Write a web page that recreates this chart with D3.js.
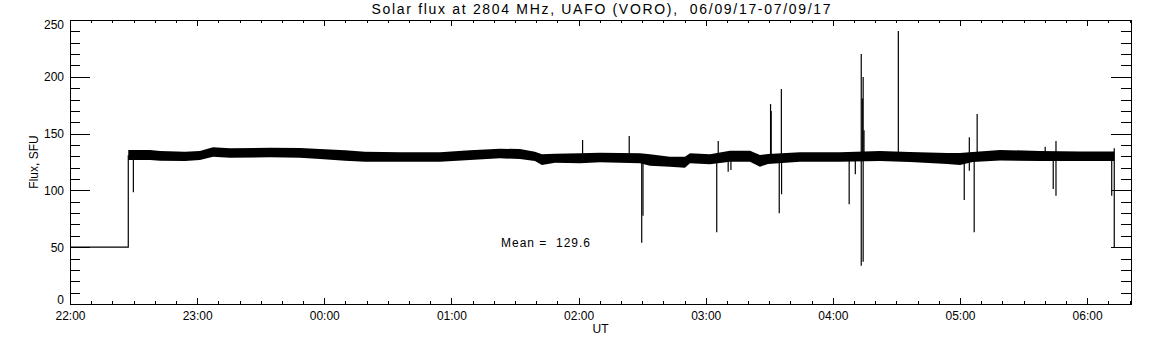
<!DOCTYPE html>
<html>
<head>
<meta charset="utf-8">
<script src="https://cdn.jsdelivr.net/npm/d3@7"></script>
<style>
  body { margin: 0; background: #fff; }
  svg { display: block; }
  text { font-family: "Liberation Sans", Arial, sans-serif; fill: #000; white-space: pre; }
  .domain { display: none; }
</style>
</head>
<body>
<svg id="chart" width="1152" height="345"></svg>
<script>
// minutes after 22:00 UT, 06/09/17
const bandMinutes = [27.5, 37.8, 42.5, 54.3, 61.3, 67.5, 75.5, 94.4, 108.5, 118.0, 129.8, 139.2, 155.7, 174.6,
  188.8, 202.9, 212.3, 219.4, 222.7, 228.9, 240.7, 250.1, 269.0, 273.7, 283.1, 290.2, 292.6, 302.0, 311.4,
  320.9, 325.6, 329.4, 344.5, 363.3, 382.2, 396.4, 414.0, 420.0, 426.0, 438.9, 457.7, 476.6, 492.8];
const bandHigh = [135.6, 135.6, 134.7, 134.1, 134.7, 137.9, 137.1, 137.6, 137.3, 136.4, 135.3, 134.1, 133.5, 133.5,
  135.3, 136.7, 136.4, 134.1, 131.8, 132.3, 132.7, 133.2, 132.7, 131.8, 129.7, 129.7, 132.7, 131.8, 134.8,
  134.8, 131.2, 132.0, 133.5, 133.5, 134.7, 133.8, 132.9, 132.9, 133.8, 135.6, 134.7, 134.3, 134.3];
const bandLow = [126.8, 126.8, 126.1, 125.9, 126.8, 129.7, 128.8, 129.1, 128.8, 127.6, 126.1, 125.3, 125.3, 125.3,
  126.8, 128.3, 127.6, 125.9, 122.4, 124.4, 123.9, 124.7, 123.9, 121.7, 120.9, 120.0, 123.9, 123.0, 125.3,
  125.3, 120.9, 123.2, 125.3, 125.3, 125.9, 125.0, 123.2, 122.4, 125.0, 126.3, 125.9, 125.9, 125.9];

const spikeMinutes = [29.9, 241.9, 263.9, 269.8, 270.4, 305.2, 305.9, 310.6, 311.9, 330.6, 330.9, 334.7, 335.7,
  335.8, 367.7, 370.6, 373.4, 373.4, 373.9, 374.3, 374.3, 374.7, 390.9, 422.0, 424.4, 424.4, 426.7, 428.1,
  460.2, 464.0, 465.3, 465.3, 491.6];
const spikeValues = [98.3, 144.4, 147.9, 54.0, 77.7, 63.1, 143.5, 116.5, 118.0, 176.0, 170.0, 79.8, 189.3,
  96.6, 87.7, 114.2, 220.0, 33.7, 181.0, 199.8, 37.3, 153.0, 240.3, 91.5, 146.7, 117.3, 63.1, 167.3,
  138.5, 101.2, 143.5, 95.3, 95.3];

const leadMinutes = [0, 27.5, 27.5];
const leadValues = [50, 50, 131];
const tailMinutes = [492.8, 492.8];
const tailValues = [137, 50];

const yTicks = [0, 50, 100, 150, 200, 250];
const titleText = "Solar flux at 2804 MHz, UAFO (VORO),  06/09/17-07/09/17";
const meanText = "Mean =  129.6";

const t0 = Date.UTC(2017, 8, 6, 22, 0, 0);
const toDate = m => new Date(t0 + m * 60000);

const svg = d3.select("#chart");
const L = 70, R = 1131, T = 20, B = 304;

const x = d3.scaleUtc().domain([toDate(0), toDate(500.7)]).range([L, R]);
const y = d3.scaleLinear().domain([0, 250]).range([B, T]);

// frame
svg.append("rect").attr("x", L).attr("y", T).attr("width", R - L).attr("height", B - T)
  .attr("fill", "none").attr("stroke", "#000").attr("stroke-width", 1).attr("shape-rendering", "crispEdges");

const minorX = x.ticks(d3.utcMinute.every(10));
const majorX = x.ticks(d3.utcHour.every(1));

function styleAxis(g) {
  g.selectAll("line").attr("stroke", "#000").attr("shape-rendering", "crispEdges");
  g.selectAll("text").style("font-size", "12px").attr("fill", "#000");
}

svg.append("g").attr("transform", `translate(0,${B})`)
  .call(d3.axisBottom(x).tickValues(minorX).tickSize(-3).tickFormat(""))
  .call(styleAxis);
svg.append("g").attr("transform", `translate(0,${B})`)
  .call(d3.axisBottom(x).tickValues(majorX).tickSize(-6).tickPadding(7).tickFormat(d3.utcFormat("%H:%M")))
  .call(styleAxis)
  .selectAll("text").attr("y", 7);
svg.append("g").attr("transform", `translate(0,${T})`)
  .call(d3.axisTop(x).tickValues(minorX).tickSize(-3).tickFormat(""))
  .call(styleAxis);
svg.append("g").attr("transform", `translate(0,${T})`)
  .call(d3.axisTop(x).tickValues(majorX).tickSize(-6).tickFormat(""))
  .call(styleAxis);

const minorY = d3.range(0, 251, 10);
const left = svg.append("g").attr("transform", `translate(${L},0)`);
left.call(d3.axisLeft(y).tickValues(minorY).tickSize(-10).tickFormat("")).call(styleAxis);
const leftMajor = svg.append("g").attr("transform", `translate(${L},0)`)
  .call(d3.axisLeft(y).tickValues(yTicks).tickSize(-20).tickPadding(6).tickFormat(d3.format("d")))
  .call(styleAxis);
leftMajor.selectAll(".tick text")
  .attr("dy", d => d === 0 ? "-0.05em" : d === 250 ? "0.7em" : "0.32em");
svg.append("g").attr("transform", `translate(${R},0)`)
  .call(d3.axisRight(y).tickValues(minorY).tickSize(-10).tickFormat("")).call(styleAxis);
svg.append("g").attr("transform", `translate(${R},0)`)
  .call(d3.axisRight(y).tickValues(yTicks).tickSize(-20).tickFormat("")).call(styleAxis);

// data
const plot = svg.append("g");
const line = d3.line().x(d => x(toDate(d[0]))).y(d => y(d[1]));

plot.append("path").datum(d3.zip(leadMinutes, leadValues)).attr("d", line)
  .attr("fill", "none").attr("stroke", "#000").attr("stroke-width", 1.2);
plot.append("path").datum(d3.zip(tailMinutes, tailValues)).attr("d", line)
  .attr("fill", "none").attr("stroke", "#000").attr("stroke-width", 1.2);

plot.selectAll("line.spike").data(d3.zip(spikeMinutes, spikeValues)).join("line")
  .attr("class", "spike")
  .attr("x1", d => x(toDate(d[0]))).attr("x2", d => x(toDate(d[0])))
  .attr("y1", y(130)).attr("y2", d => y(d[1]))
  .attr("stroke", "#000").attr("stroke-width", 1.2);

const band = d3.area()
  .x(d => x(toDate(d[0]))).y0(d => y(d[2])).y1(d => y(d[1]));
plot.append("path").datum(d3.zip(bandMinutes, bandHigh, bandLow)).attr("d", band)
  .attr("fill", "#000");

// texts
svg.append("text").attr("x", 601).attr("y", 14).attr("text-anchor", "middle")
  .attr("textLength", 459).attr("lengthAdjust", "spacing")
  .style("font-size", "14px").text(titleText);
svg.append("text").attr("x", (L + R) / 2).attr("y", 333).attr("text-anchor", "middle")
  .style("font-size", "12px").text("UT");
svg.append("text").attr("transform", `translate(38,${(T + B) / 2}) rotate(-90)`)
  .attr("text-anchor", "middle").style("font-size", "12px").text("Flux, SFU");
svg.append("text").attr("x", 501).attr("y", 247).attr("textLength", 89).attr("lengthAdjust", "spacing")
  .style("font-size", "12px").text(meanText);
</script>
</body>
</html>
